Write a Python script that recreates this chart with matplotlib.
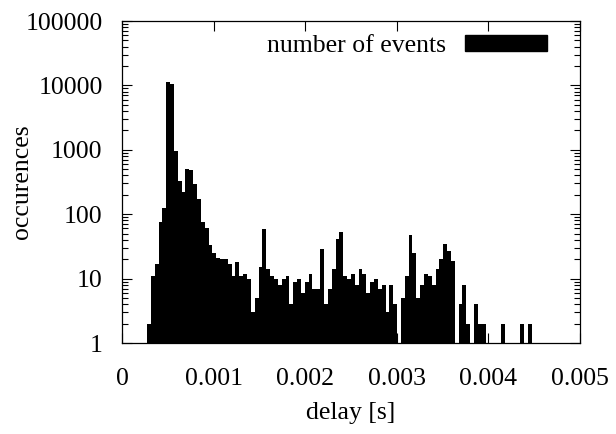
import numpy as np
import matplotlib
matplotlib.use("Agg")
import matplotlib.pyplot as plt
from matplotlib.patches import Patch
from matplotlib.ticker import FixedLocator, LogLocator, NullFormatter

# =========================
# Data
# =========================
bin_width = 0.000042     # histogram bin width [s]
first_bin = 7            # index of first bin (bin centre = index * bin_width)

counts = [
    2, 11, 17, 75, 125, 11200, 10700, 960, 330, 218,
    505, 485, 290, 170, 75, 62, 33, 25, 21, 20,
    20, 17, 11, 18, 11, 12, 10, 3, 5, 15,
    59, 14, 11, 10, 8, 10, 11, 4, 9, 10,
    6, 9, 12, 7, 7, 29, 4, 7, 14, 41,
    52, 11, 10, 12, 8, 14, 12, 6, 9, 10,
    7, 8, 3, 8, 4, 0, 5, 11, 48, 25,
    5, 8, 12, 11, 8, 14, 20, 35, 27, 19,
    0, 4, 8, 2, 0, 4, 2, 2, 0, 0,
    0, 0, 2, 0, 0, 0, 0, 2, 0, 2,
]

x_ticks = [0, 0.001, 0.002, 0.003, 0.004, 0.005]
x_labels = ["0", "0.001", "0.002", "0.003", "0.004", "0.005"]
y_ticks = [1, 10, 100, 1000, 10000, 100000]
y_labels = ["1", "10", "100", "1000", "10000", "100000"]

# =========================
# Plot
# =========================
plt.rcParams["font.family"] = ["Liberation Serif", "DejaVu Serif"]
FS = 18.5

counts = np.array(counts, dtype=float)
centers = (first_bin + np.arange(len(counts))) * bin_width
mask = counts > 0

fig = plt.figure(figsize=(6.16, 4.34), dpi=100)
ax = fig.add_axes([122 / 616, 1 - 343 / 434, (580 - 122) / 616, (343 - 21) / 434])

ax.bar(centers[mask], counts[mask], width=bin_width, color="black",
       linewidth=0, align="center")

ax.set_yscale("log")
ax.set_xlim(0, 0.005)
ax.set_ylim(1, 100000)

ax.xaxis.set_major_locator(FixedLocator(x_ticks))
ax.set_xticklabels(x_labels)
ax.yaxis.set_major_locator(FixedLocator(y_ticks))
ax.set_yticklabels(y_labels)
ax.yaxis.set_minor_locator(LogLocator(base=10, subs=np.arange(2, 10)))
ax.yaxis.set_minor_formatter(NullFormatter())

ax.tick_params(which="both", direction="in", top=True, right=True,
               labelsize=FS)
ax.tick_params(axis="y", pad=14)
ax.tick_params(axis="x", pad=18)
ax.tick_params(which="major", length=7, width=0.8)
ax.tick_params(which="minor", length=4, width=0.8)
for s in ax.spines.values():
    s.set_linewidth(0.9)

ax.set_xlabel("delay [s]", fontsize=FS)
ax.xaxis.set_label_coords(0.5, (343 - 402) / 322)
ax.set_ylabel("occurences", fontsize=FS)
ax.yaxis.set_label_coords((33 - 122) / 458, 0.5)

handle = Patch(facecolor="black", edgecolor="black")
ax.legend([handle], ["number of events"], loc="upper right", frameon=False,
          fontsize=FS, markerfirst=False, handlelength=3.2, handleheight=0.6,
          handletextpad=0.75, borderaxespad=0, borderpad=0,
          bbox_to_anchor=((547 - 122) / 458, (343 - 35) / 322))

fig.savefig("out.png", dpi=100)
